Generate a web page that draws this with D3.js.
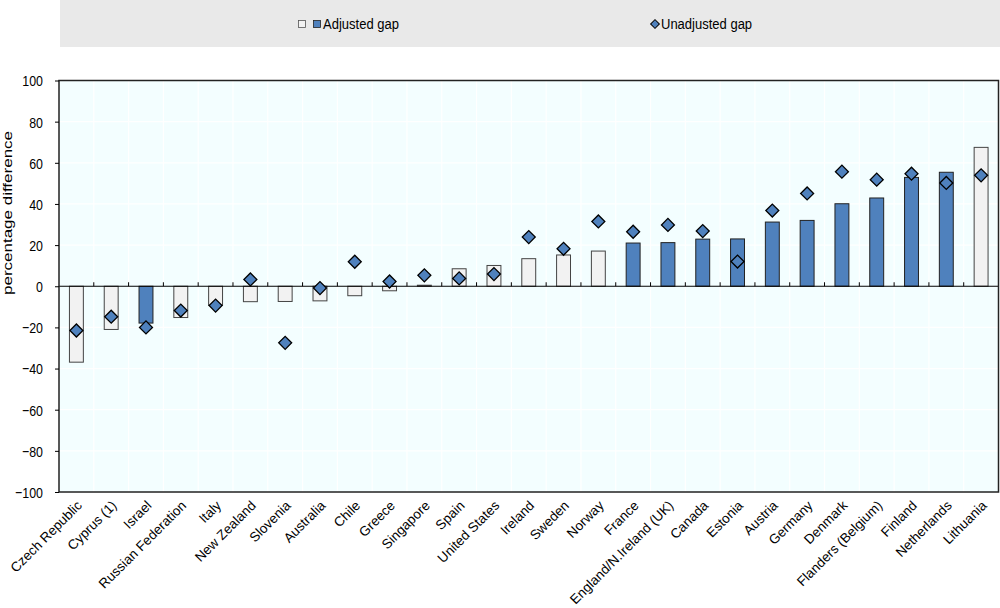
<!DOCTYPE html>
<html>
<head>
<meta charset="utf-8">
<script src="https://cdn.jsdelivr.net/npm/d3@7"></script>
<style>
  html, body { margin: 0; padding: 0; background: #ffffff; }
  svg text { font-family: "Liberation Sans", Arial, sans-serif; fill: #000; }
</style>
</head>
<body>
<svg id="chart" width="1000" height="608"></svg>
<script>
const categories = ["Czech Republic","Cyprus (1)","Israel","Russian Federation","Italy","New Zealand","Slovenia","Australia","Chile","Greece","Singapore","Spain","United States","Ireland","Sweden","Norway","France","England/N.Ireland (UK)","Canada","Estonia","Austria","Germany","Denmark","Flanders (Belgium)","Finland","Netherlands","Lithuania"];
const adjustedGap = [-36.9,-21.0,-17.9,-15.2,-9.3,-7.5,-7.4,-7.1,-4.6,-2.2,0.5,8.5,10.1,13.4,15.2,17.1,21.0,21.2,22.9,23.0,31.2,32.0,40.1,42.9,52.9,55.4,67.5];
const unadjustedGap = [-21.5,-14.8,-20.0,-11.8,-9.4,3.3,-27.5,-0.9,11.9,2.3,5.3,3.8,5.9,23.9,18.2,31.5,26.5,29.8,26.8,12.0,36.8,45.1,55.7,51.8,54.7,50.2,53.9];
const significant = [false,false,true,false,false,false,false,false,false,false,false,false,false,false,false,false,true,true,true,true,true,true,true,true,true,true,false];
const yTicks = [-100,-80,-60,-40,-20,0,20,40,60,80,100];
const legendLabels = ["Adjusted gap","Unadjusted gap"];
const yTitle = "percentage difference";

const svg = d3.select("#chart");
const plot = {left: 59, right: 998.5, top: 80.5, bottom: 492};
const blue = "#4F81BD", light = "#F2F2F2";

// legend
svg.append("rect").attr("x", 60).attr("y", 0).attr("width", 940).attr("height", 47).attr("fill", "#E9E9E9");
const lg = svg.append("g");
lg.append("rect").attr("x", 298.5).attr("y", 20.5).attr("width", 7).attr("height", 7).attr("fill", light).attr("stroke", "#555").attr("stroke-width", 0.8);
lg.append("rect").attr("x", 313.5).attr("y", 20.5).attr("width", 7).attr("height", 7).attr("fill", blue).attr("stroke", "#222").attr("stroke-width", 0.8);
lg.append("text").attr("transform", "translate(323,29) scale(0.84,1)").attr("font-size", 15.5).text(legendLabels[0]);
lg.append("path").attr("d", d3.symbol(d3.symbolSquare, 38)()).attr("transform", "translate(655,24) rotate(45)").attr("fill", blue).attr("stroke", "#000").attr("stroke-width", 1);
lg.append("text").attr("transform", "translate(661,29) scale(0.84,1)").attr("font-size", 15.5).text(legendLabels[1]);

const x = d3.scaleBand().domain(categories).range([plot.left, plot.right]).paddingInner(0.6).paddingOuter(0.3);
const xStep = d3.scaleBand().domain(categories).range([plot.left, plot.right]).padding(0);
const y = d3.scaleLinear().domain([-100, 100]).range([plot.bottom, plot.top]);

// background
svg.append("rect").attr("x", plot.left).attr("y", plot.top).attr("width", plot.right - plot.left).attr("height", plot.bottom - plot.top).attr("fill", "#F3FEFF");

// grid
const grid = svg.append("g");
grid.selectAll("line.h").data(yTicks.filter(d => d !== 0 && d !== 100 && d !== -100)).enter().append("line")
  .attr("x1", plot.left).attr("x2", plot.right).attr("y1", d => y(d)).attr("y2", d => y(d))
  .attr("stroke", "#ffffff").attr("stroke-width", 1.2);
grid.selectAll("line.v").data(categories.slice(1)).enter().append("line")
  .attr("x1", d => xStep(d)).attr("x2", d => xStep(d)).attr("y1", plot.top).attr("y2", plot.bottom)
  .attr("stroke", "#ffffff").attr("stroke-width", 1.2);

// bars
svg.append("g").selectAll("rect").data(categories).enter().append("rect")
  .attr("x", d => x(d))
  .attr("width", x.bandwidth())
  .attr("y", (d, i) => y(Math.max(0, adjustedGap[i])))
  .attr("height", (d, i) => Math.abs(y(adjustedGap[i]) - y(0)))
  .attr("fill", (d, i) => significant[i] ? blue : light)
  .attr("stroke", (d, i) => significant[i] ? "#222" : "#444")
  .attr("stroke-width", 1);

// zero axis with ticks at category boundaries
const xAxis = d3.axisTop(xStep).tickSize(4).tickFormat("");
const xg = svg.append("g").attr("transform", `translate(0,${y(0)})`).call(xAxis);
xg.select(".domain").remove();
xg.selectAll(".tick").attr("transform", d => `translate(${xStep(d) + xStep.bandwidth()},0)`);
xg.selectAll(".tick line").attr("stroke", "#000").attr("stroke-width", 1);
svg.append("line").attr("x1", plot.left).attr("x2", plot.right).attr("y1", y(0)).attr("y2", y(0)).attr("stroke", "#000").attr("stroke-width", 1.2);

// diamonds
svg.append("g").selectAll("path").data(categories).enter().append("path")
  .attr("d", d3.symbol(d3.symbolSquare, 84)())
  .attr("transform", (d, i) => `translate(${x(d) + x.bandwidth() / 2},${y(unadjustedGap[i])}) rotate(45)`)
  .attr("fill", blue).attr("stroke", "#000").attr("stroke-width", 1.3);

// frame
svg.append("rect").attr("x", plot.left).attr("y", plot.top).attr("width", plot.right - plot.left).attr("height", plot.bottom - plot.top)
  .attr("fill", "none").attr("stroke", "#222").attr("stroke-width", 1.5);

// y axis
const yAxis = d3.axisLeft(y).tickValues(yTicks).tickSize(4);
const yg = svg.append("g").attr("transform", `translate(${plot.left},0)`).call(yAxis);
yg.select(".domain").remove();
yg.selectAll(".tick line").attr("stroke", "#000");
yg.selectAll(".tick text").attr("font-size", 15.5).attr("font-family", null)
  .attr("x", 0).attr("dy", "0.35em").attr("transform", "translate(-16,0) scale(0.8,1)");

svg.append("text").attr("transform", "translate(12,213) scale(0.75,1) rotate(-90)").attr("text-anchor", "middle").attr("font-size", 17).text(yTitle);

// category labels
svg.append("g").selectAll("text").data(categories).enter().append("text")
  .attr("transform", d => `translate(${xStep(d) + xStep.bandwidth() / 2 + 3},${plot.bottom + 11}) rotate(-45)`)
  .attr("text-anchor", "end").attr("font-size", 13.5).attr("dy", "0.35em")
  .text(d => d);
</script>
</body>
</html>
